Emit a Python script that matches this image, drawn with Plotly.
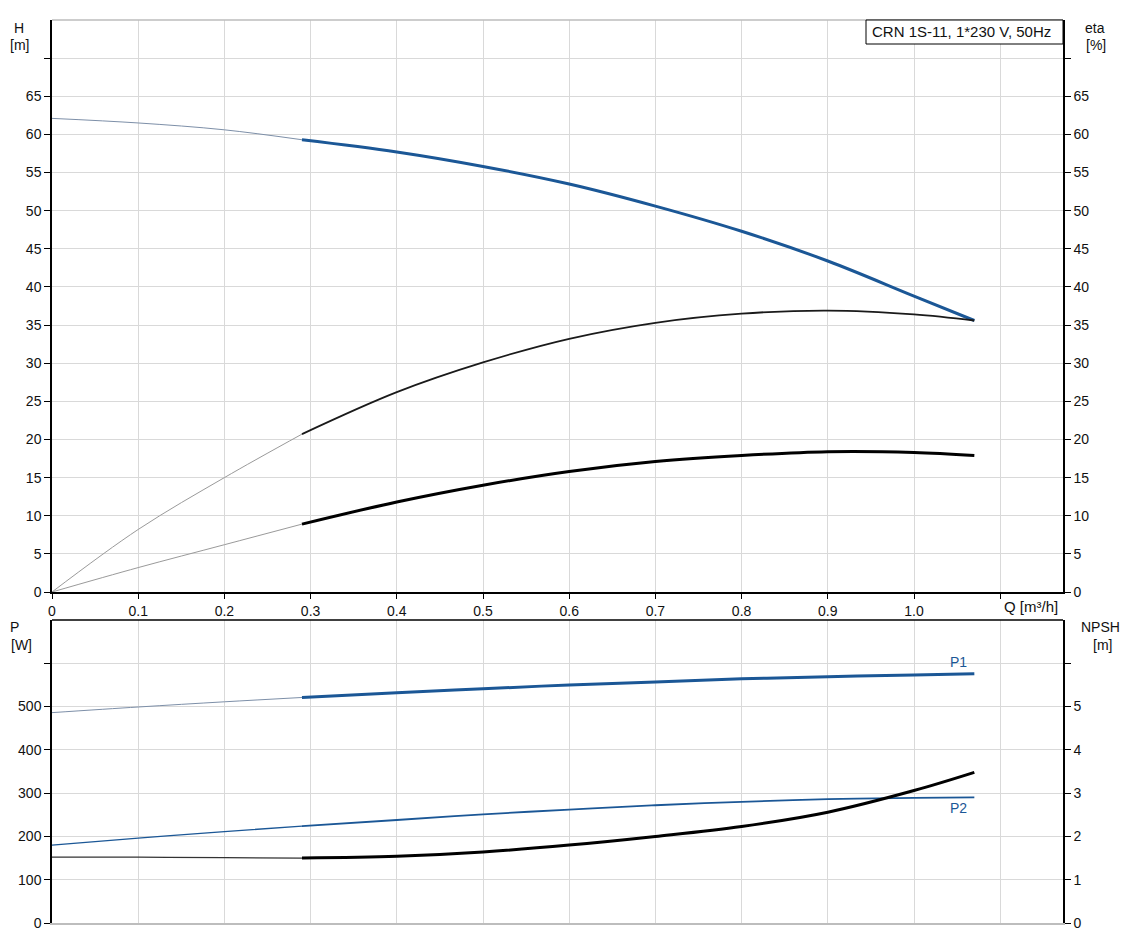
import plotly.graph_objects as go

# ---------------- data ----------------
q = [0, 0.1, 0.2, 0.29, 0.4, 0.5, 0.6, 0.7, 0.8, 0.9, 1.0, 1.07]
head = [62.1, 61.5, 60.6, 59.3, 57.7, 55.8, 53.5, 50.6, 47.3, 43.4, 38.8, 35.6]
eta_pump = [0, 8.2, 15.0, 20.7, 26.2, 30.1, 33.2, 35.3, 36.5, 36.9, 36.4, 35.6]
eta_total = [0, 3.2, 6.2, 8.9, 11.8, 14.0, 15.8, 17.1, 17.9, 18.4, 18.3, 17.9]
p1 = [486, 499, 511, 521, 532, 541, 550, 557, 564, 569, 573, 576]
p2 = [180, 196, 211, 224, 238, 251, 262, 272, 280, 286, 289, 290]
npsh = [1.52, 1.52, 1.51, 1.50, 1.54, 1.64, 1.80, 2.00, 2.23, 2.56, 3.06, 3.48]
split = 3  # index where the operating range (thick line) starts

x_ticks = [0, 0.1, 0.2, 0.3, 0.4, 0.5, 0.6, 0.7, 0.8, 0.9, 1.0, 1.1]
x_ticktext = ["0", "0.1", "0.2", "0.3", "0.4", "0.5", "0.6", "0.7", "0.8", "0.9", "1.0", ""]
h_ticks = list(range(0, 75, 5))
h_ticktext = [str(v) for v in range(0, 70, 5)] + [""]
p_ticks = [0, 100, 200, 300, 400, 500, 600]
p_ticktext = ["0", "100", "200", "300", "400", "500", ""]
n_ticks = [0, 1, 2, 3, 4, 5, 6]
n_ticktext = ["0", "1", "2", "3", "4", "5", ""]
title_text = "CRN 1S-11, 1*230 V, 50Hz"

# ---------------- layout geometry (screen px; page body has 8px margin) ----------------
OFF = 8
W, H = 1131 - 2 * OFF, 944 - 2 * OFF
L, R, T, B = 52, 1063, 20, 923
def px(x):
    return (x - L) / (R - L)
def py(y):
    return (B - y) / (B - T)

BLUE = "#1b5796"
FONT = "Liberation Sans, Arial, sans-serif"
GRID = "#d9d9d9"
TF = dict(family=FONT, size=14, color="#111")

fig = go.Figure()

def add_curve(yvals, xa, ya, color_thin, color_thick, w_thin, w_thick):
    fig.add_trace(go.Scatter(x=q[:split + 1], y=yvals[:split + 1], mode="lines",
                             line=dict(color=color_thin, width=w_thin, shape="spline"),
                             xaxis=xa, yaxis=ya, showlegend=False, hoverinfo="skip"))
    fig.add_trace(go.Scatter(x=q[split:], y=yvals[split:], mode="lines",
                             line=dict(color=color_thick, width=w_thick, shape="spline"),
                             xaxis=xa, yaxis=ya, showlegend=False, hoverinfo="skip"))

add_curve(head, "x", "y", "#7d8fa8", BLUE, 1, 3)
add_curve(eta_pump, "x", "y2", "#9a9a9a", "#1a1a1a", 1, 1.8)
add_curve(eta_total, "x", "y2", "#9a9a9a", "#000000", 1, 3)
add_curve(p1, "x2", "y3", "#7d8fa8", BLUE, 1, 3)
add_curve(p2, "x2", "y3", BLUE, BLUE, 1.3, 1.8)
add_curve(npsh, "x2", "y4", "#333333", "#000000", 1.2, 3)

xr = [0, (R - L) / 862.0]
top_dom = [py(592), 1]
bot_dom = [0, py(620)]

common_x = dict(range=xr, tickvals=x_ticks, showgrid=True, gridcolor=GRID, gridwidth=1,
                zeroline=False, tickfont=TF)
yax_common = dict(zeroline=False, showline=True, linecolor="black", linewidth=1.5,
                  ticks="outside", ticklen=6, tickcolor="black", tickfont=TF)
fig.update_layout(
    width=W, height=H,
    margin=dict(l=L - OFF, r=W - (R - OFF), t=T - OFF, b=H - (B - OFF), autoexpand=False),
    paper_bgcolor="white", plot_bgcolor="white",
    font=dict(family=FONT, size=14, color="#111"),
    xaxis=dict(**common_x, domain=[0, 1], anchor="y", ticktext=x_ticktext,
               showline=True, linecolor="black", linewidth=1.5,
               ticks="outside", ticklen=5, tickcolor="black"),
    xaxis2=dict(**common_x, domain=[0, 1], anchor="y3", showticklabels=False,
                showline=True, linecolor="#bdbdbd", linewidth=2, ticks=""),
    yaxis=dict(**yax_common, domain=top_dom, range=[0, 75], tickvals=h_ticks, ticktext=h_ticktext,
               showgrid=True, gridcolor=GRID, anchor="x"),
    yaxis2=dict(**yax_common, domain=top_dom, range=[0, 75], tickvals=h_ticks, ticktext=h_ticktext,
                overlaying="y", side="right", anchor="x", showgrid=False),
    yaxis3=dict(**yax_common, domain=bot_dom, range=[0, 700], tickvals=p_ticks, ticktext=p_ticktext,
                showgrid=True, gridcolor=GRID, anchor="x2"),
    yaxis4=dict(**yax_common, domain=bot_dom, range=[0, 7], tickvals=n_ticks, ticktext=n_ticktext,
                overlaying="y3", side="right", anchor="x2", showgrid=False),
)

shapes = [
    # top border of upper chart (grey)
    dict(type="line", xref="paper", yref="paper", x0=0, x1=1, y0=1, y1=1,
         line=dict(color="#bdbdbd", width=1.5)),
    # top border of lower chart (black)
    dict(type="line", xref="paper", yref="paper", x0=0, x1=1, y0=py(620), y1=py(620),
         line=dict(color="black", width=1.5)),
    # title box
    dict(type="rect", xref="paper", yref="paper", x0=px(866), x1=px(1063),
         y0=py(44), y1=py(20), fillcolor="white", line=dict(color="black", width=1)),
]
fig.update_layout(shapes=shapes)

ann = []
def label(text, x, y, anchor="center", color="#111", size=14):
    ann.append(dict(text=text, xref="paper", yref="paper", x=px(x), y=py(y),
                    xanchor=anchor, yanchor="middle", showarrow=False,
                    font=dict(family=FONT, size=size, color=color)))

label("H", 19, 28)
label("[m]", 19, 45)
label("eta", 1095, 28)
label("[%]", 1096, 45)
label("P", 14, 627)
label("[W]", 8.5, 645, anchor="left")
label("NPSH", 1100, 627)
label("[m]", 1102, 645)
label("Q [m³/h]", 1002, 606, anchor="left", size=15)
label(title_text, 870, 32, anchor="left", size=15)
label("P1", 958, 662, color=BLUE)
label("P2", 958, 808, color=BLUE)
fig.update_layout(annotations=ann)

fig.write_html("out.html")
